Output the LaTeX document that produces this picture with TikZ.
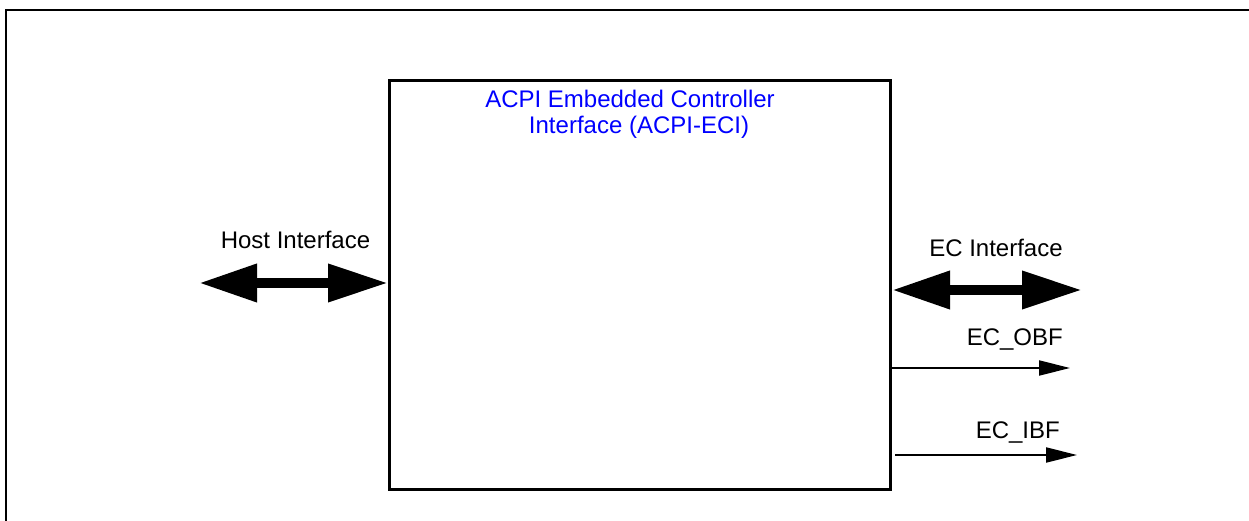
\documentclass[tikz,border=0pt]{standalone}
\usepackage{fontspec}
\setmainfont{Liberation Sans}
\usetikzlibrary{arrows.meta}
\definecolor{titleblue}{RGB}{0,0,255}
\tikzset{
  lbl/.style={font=\fontsize{24}{26}\selectfont, inner sep=0pt},
  fatarrow/.style={line width=10pt, {Triangle[length=58pt,width=36pt]}-{Triangle[length=60pt,width=36pt]}},
  thinarrow/.style={line width=2pt, -{Triangle[length=31pt,width=15pt]}},
  blockbox/.style={draw, line width=3pt, minimum width=501pt, minimum height=409pt, inner sep=0pt, anchor=north west}
}
\begin{document}
\begin{tikzpicture}[x=1pt,y=-1pt]
\useasboundingbox (0,0) rectangle (1249,521);
\draw[line width=2.5pt] (6,530) -- (6,10) -- (1260,10);
\node[blockbox] (box) at (388,79) {};
\node[lbl, text=titleblue, anchor=base] (title1) at (630,108) {ACPI Embedded Controller};
\node[lbl, text=titleblue, anchor=base] (title2) at (639,134) {Interface (ACPI-ECI)};
% host interface
\node[lbl, anchor=base] (hostlbl) at (295.5,248) {Host Interface};
\coordinate (hostL) at (199,283);
\draw[fatarrow] (hostL) -- (box.west |- hostL);
% EC interface
\node[lbl, anchor=base] (eclbl) at (996,257) {EC Interface};
\coordinate (ecR) at (1082,290);
\draw[fatarrow] (box.east |- ecR) -- (ecR);
% EC_OBF
\node[lbl, anchor=base east] (obflbl) at (1063,345) {EC\_OBF};
\coordinate (obfR) at (1070,368);
\draw[thinarrow] (box.east |- obfR) -- (obfR);
% EC_IBF
\node[lbl, anchor=base east] (ibflbl) at (1060,438) {EC\_IBF};
\coordinate (ibfL) at (895,455);
\coordinate (ibfR) at (1077,455);
\draw[thinarrow] (ibfL) -- (ibfR);
\end{tikzpicture}
\end{document}
